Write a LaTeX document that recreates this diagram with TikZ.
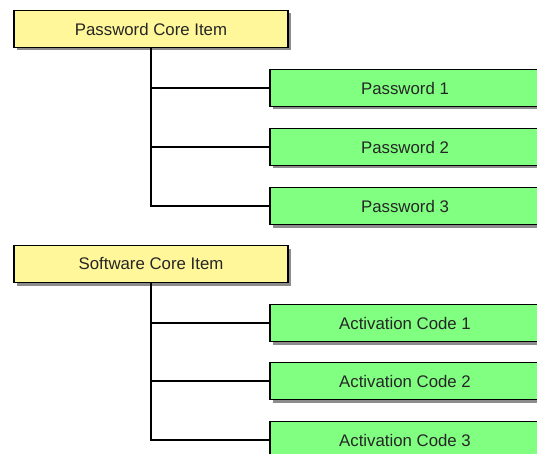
\documentclass[tikz,border=0pt]{standalone}
\usepackage{fontspec}
\setmainfont{Liberation Sans}
\usetikzlibrary{shadows}
\definecolor{coreyellow}{RGB}{255,247,153}
\definecolor{itemgreen}{RGB}{128,255,128}
\tikzset{
  box/.style={draw=black, line width=1.6pt, minimum height=37pt, inner sep=0pt,
    font=\fontsize{16.8}{19}\selectfont, text=black!85,
    drop shadow={shadow xshift=3pt, shadow yshift=-3pt, fill=black!45, opacity=1}},
  core/.style={box, fill=coreyellow, minimum width=274pt},
  item/.style={box, fill=itemgreen, minimum width=270pt},
  link/.style={line width=1.4pt, black}
}
\begin{document}
\begin{tikzpicture}[x=1pt,y=1pt]
\useasboundingbox (0,0) rectangle (537,-454);
\node[core] (pc) at (151,-29) {Password Core Item};
\node[item] (p1) at (405,-88) {Password 1};
\node[item] (p2) at (405,-147) {Password 2};
\node[item] (p3) at (405,-206) {Password 3};
\node[core] (sc) at (151,-264) {Software Core Item};
\node[item] (a1) at (405,-323) {Activation Code 1};
\node[item] (a2) at (405,-381) {Activation Code 2};
\node[item] (a3) at (405,-440) {Activation Code 3};
\foreach \c/\i in {pc/p1,pc/p2,pc/p3,sc/a1,sc/a2,sc/a3}{
  \draw[link] (\c.south) |- (\i.west);
}
\end{tikzpicture}
\end{document}
